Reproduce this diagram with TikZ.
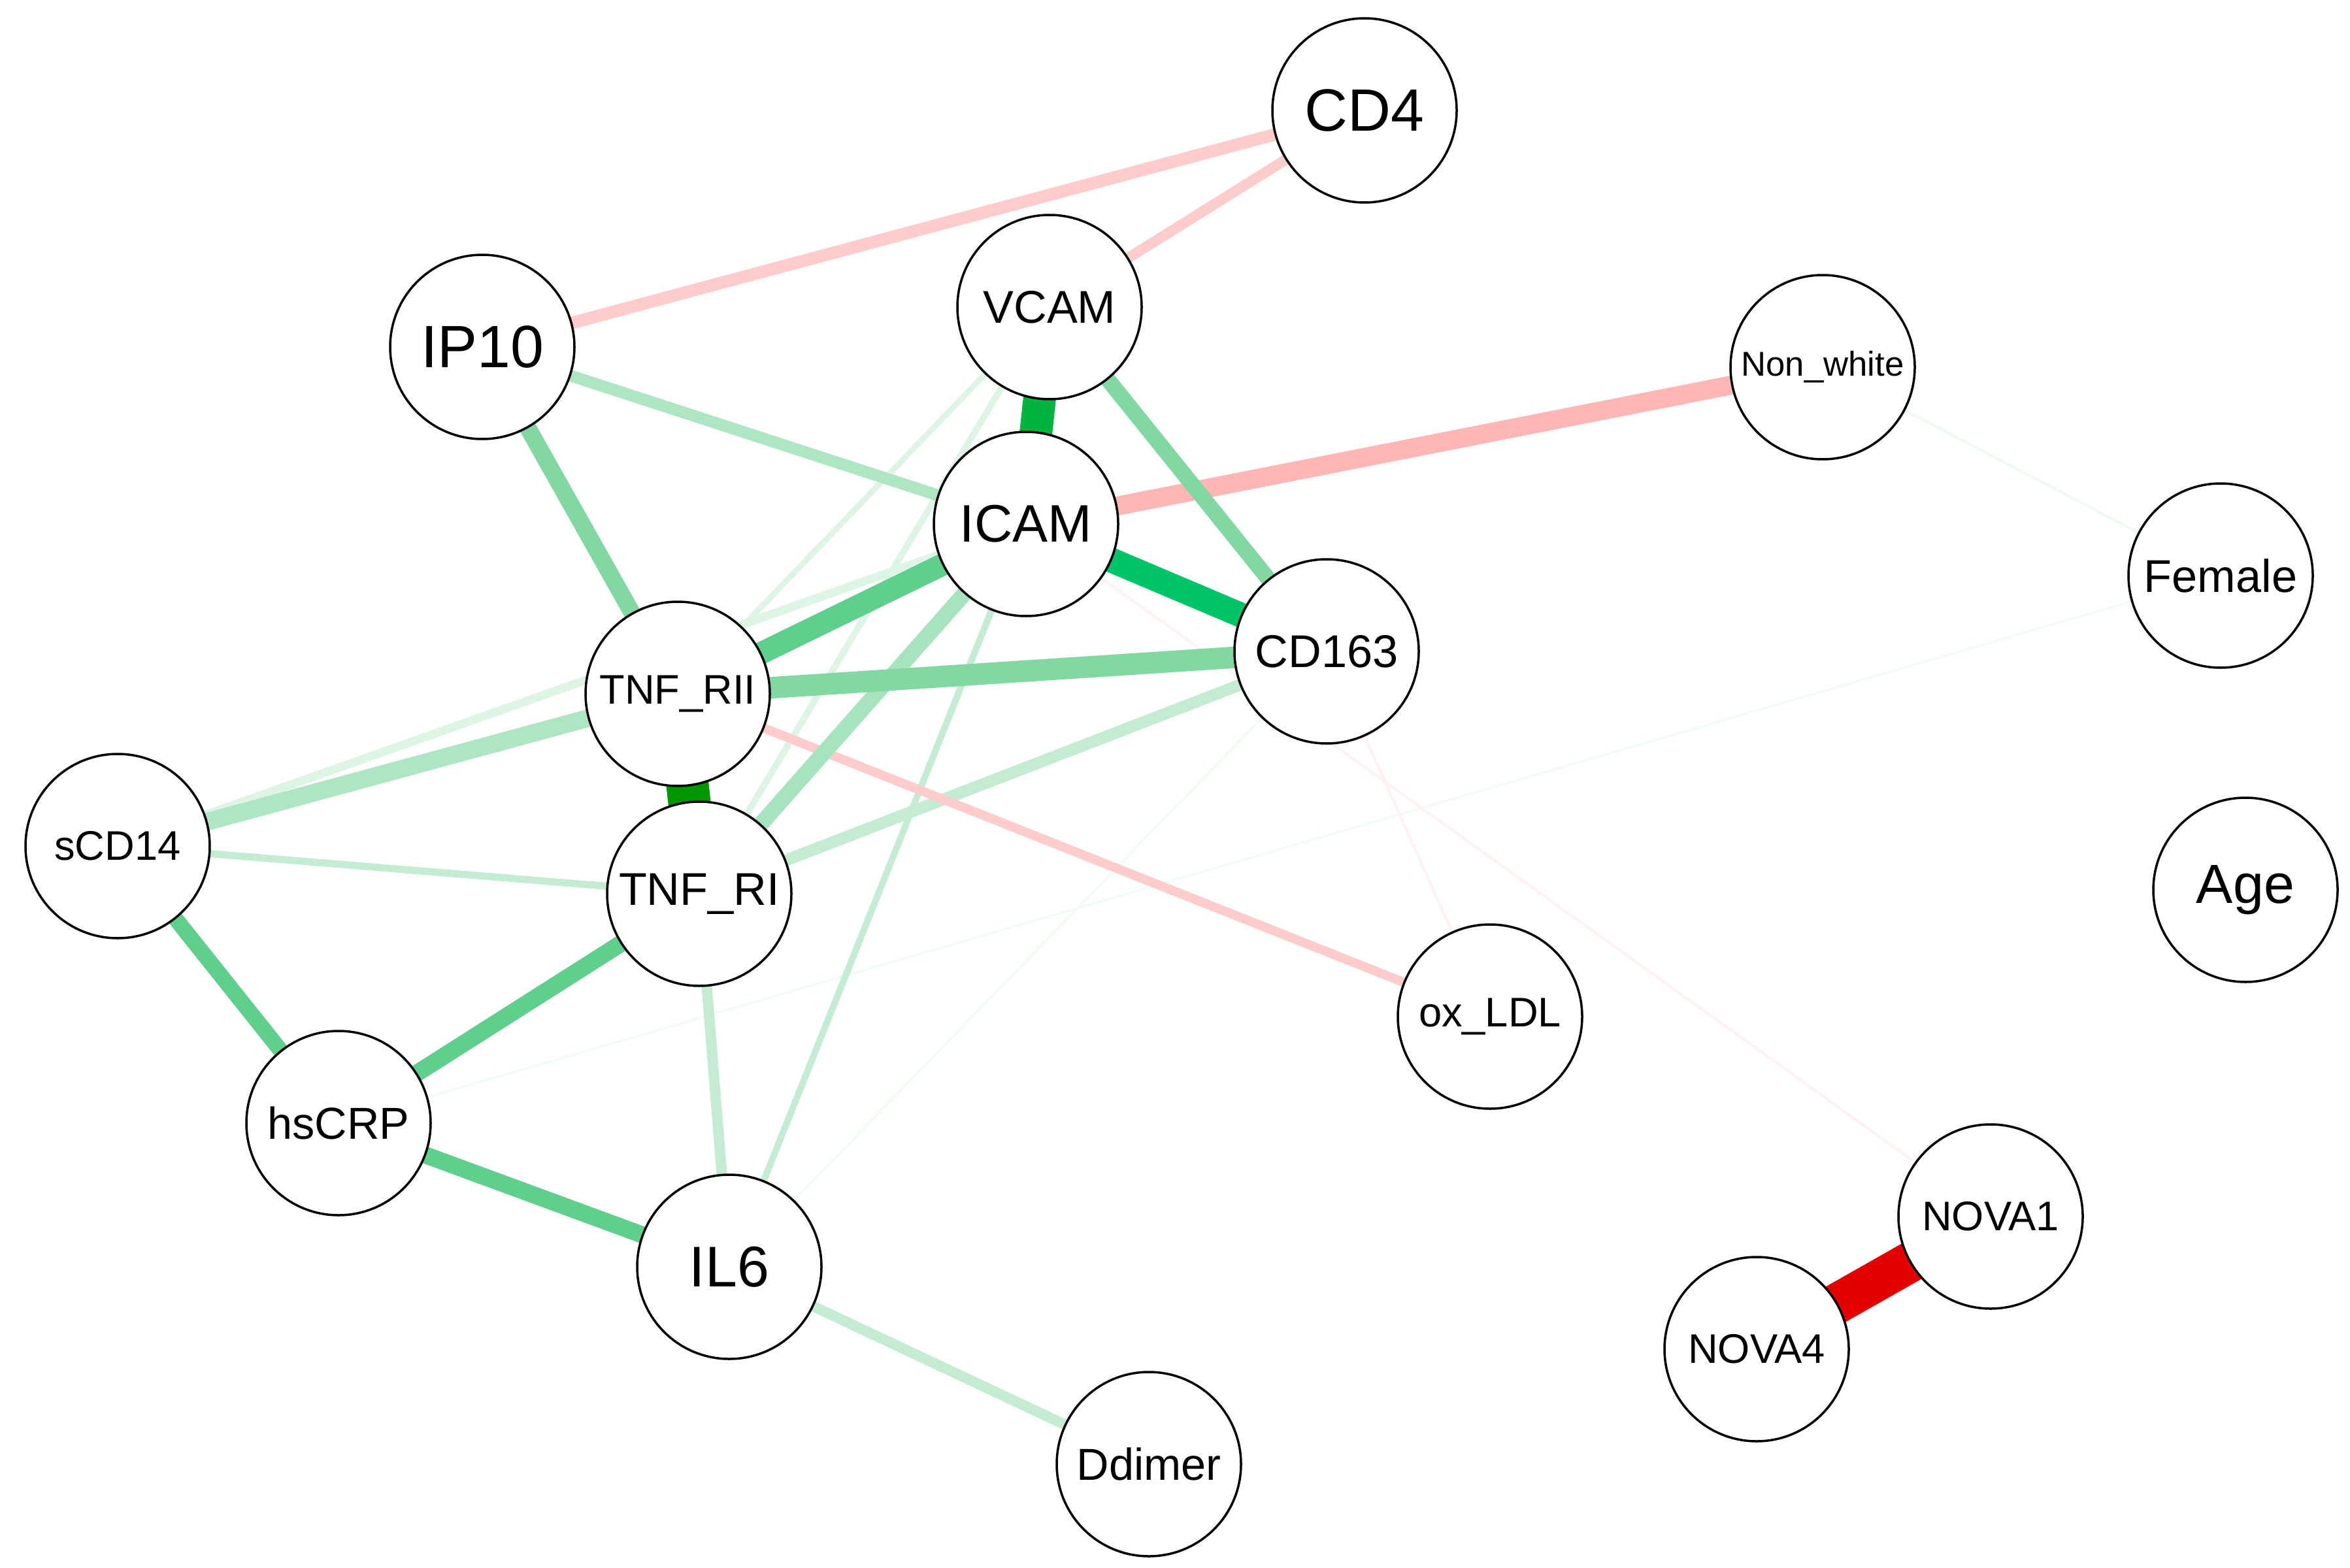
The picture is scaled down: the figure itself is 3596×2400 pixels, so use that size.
\documentclass[tikz,border=0pt]{standalone}
\usepackage{fontspec}
\setmainfont{Liberation Sans}
\usetikzlibrary{backgrounds}
\definecolor{grnA}{RGB}{0,150,0}
\definecolor{grnB}{RGB}{0,180,64}
\definecolor{grnC}{RGB}{0,196,104}
\definecolor{grnD}{RGB}{96,206,140}
\definecolor{grnE}{RGB}{130,216,162}
\definecolor{grnF}{RGB}{174,229,194}
\definecolor{grnG}{RGB}{196,236,210}
\definecolor{grnH}{RGB}{222,245,229}
\definecolor{grnI}{RGB}{243,251,245}
\definecolor{redA}{RGB}{226,0,0}
\definecolor{redB}{RGB}{255,182,182}
\definecolor{redC}{RGB}{255,204,204}
\definecolor{redD}{RGB}{255,242,242}
\begin{document}
\begin{tikzpicture}[x=0.1mm,y=-0.1mm,
		vtx/.style={circle,draw=black,line width=0.35mm,fill=white,minimum size=28.2mm,inner sep=0pt},
		lbl/.style={font=\fontsize{#1}{#1}\selectfont},
		wt/.style={line width=#1mm}]
			\useasboundingbox (0,0) rectangle (3596,2400);
			\node [vtx,lbl=26] (CD4) at (2088,169) {CD4};
			\node [vtx,lbl=26] (IP10) at (738,531) {IP10};
			\node [vtx,lbl=20] (VCAM) at (1606,470) {VCAM};
			\node [vtx,lbl=15] (Nonwhite) at (2789,562) {Non\_white};
			\node [vtx,lbl=23] (ICAM) at (1570,802) {ICAM};
			\node [vtx,lbl=20] (Female) at (3398,881) {Female};
			\node [vtx,lbl=20] (CD163) at (2030,997) {CD163};
			\node [vtx,lbl=18] (TNFRII) at (1037,1062) {TNF\_RII};
			\node [vtx,lbl=18] (sCD14) at (180,1295) {sCD14};
			\node [vtx,lbl=20] (TNFRI) at (1070,1368) {TNF\_RI};
			\node [vtx,lbl=24] (Age) at (3436,1362) {Age};
			\node [vtx,lbl=18] (oxLDL) at (2280,1556) {ox\_LDL};
			\node [vtx,lbl=19.5] (hsCRP) at (518,1719) {hsCRP};
			\node [vtx,lbl=18] (NOVA1) at (3046,1862) {NOVA1};
			\node [vtx,lbl=25] (IL6) at (1116,1939) {IL6};
			\node [vtx,lbl=18] (NOVA4) at (2688,2065) {NOVA4};
			\node [vtx,lbl=19.5] (Ddimer) at (1758,2241) {Ddimer};
			\begin{pgfonlayer}{background}
			\draw [wt=0.4,grnI] (CD163.center) -- (IL6.center);
			\draw [wt=0.4,grnI] (hsCRP.center) -- (Female.center);
			\draw [wt=0.4,grnI!80!grnH] (Nonwhite.center) -- (Female.center);
			\draw [wt=0.4,redD] (ICAM.center) -- (NOVA1.center);
			\draw [wt=0.4,redD] (CD163.center) -- (oxLDL.center);
			\draw [wt=0.9,grnH] (VCAM.center) -- (TNFRII.center);
			\draw [wt=1.0,grnH] (VCAM.center) -- (TNFRI.center);
			\draw [wt=1.3,grnH] (sCD14.center) -- (ICAM.center);
			\draw [wt=1.0,grnG] (ICAM.center) -- (IL6.center);
			\draw [wt=1.1,grnG] (sCD14.center) -- (TNFRI.center);
			\draw [wt=1.6,grnG] (TNFRI.center) -- (IL6.center);
			\draw [wt=1.6,grnG] (IL6.center) -- (Ddimer.center);
			\draw [wt=1.8,grnG] (TNFRI.center) -- (CD163.center);
			\draw [wt=1.4,redC] (TNFRII.center) -- (oxLDL.center);
			\draw [wt=1.6,redC] (CD4.center) -- (VCAM.center);
			\draw [wt=1.9,redC] (CD4.center) -- (IP10.center);
			\draw [wt=2.9,redB] (ICAM.center) -- (Nonwhite.center);
			\draw [wt=2.7,grnF] (sCD14.center) -- (TNFRII.center);
			\draw [wt=1.8,grnF] (IP10.center) -- (ICAM.center);
			\draw [wt=2.4,grnF!85!grnE] (ICAM.center) -- (TNFRI.center);
			\draw [wt=2.4,grnE] (VCAM.center) -- (CD163.center);
			\draw [wt=2.6,grnE] (IP10.center) -- (TNFRII.center);
			\draw [wt=3.3,grnE] (TNFRII.center) -- (CD163.center);
			\draw [wt=2.4,grnD] (sCD14.center) -- (hsCRP.center);
			\draw [wt=2.6,grnD] (hsCRP.center) -- (TNFRI.center);
			\draw [wt=2.6,grnD] (hsCRP.center) -- (IL6.center);
			\draw [wt=3.4,grnD] (ICAM.center) -- (TNFRII.center);
			\draw [wt=3.8,grnC] (ICAM.center) -- (CD163.center);
			\draw [wt=5.0,grnB] (VCAM.center) -- (ICAM.center);
			\draw [wt=6.5,grnA] (TNFRII.center) -- (TNFRI.center);
			\draw [wt=6.2,redA] (NOVA1.center) -- (NOVA4.center);
			\end{pgfonlayer}
		\end{tikzpicture}
\end{document}
